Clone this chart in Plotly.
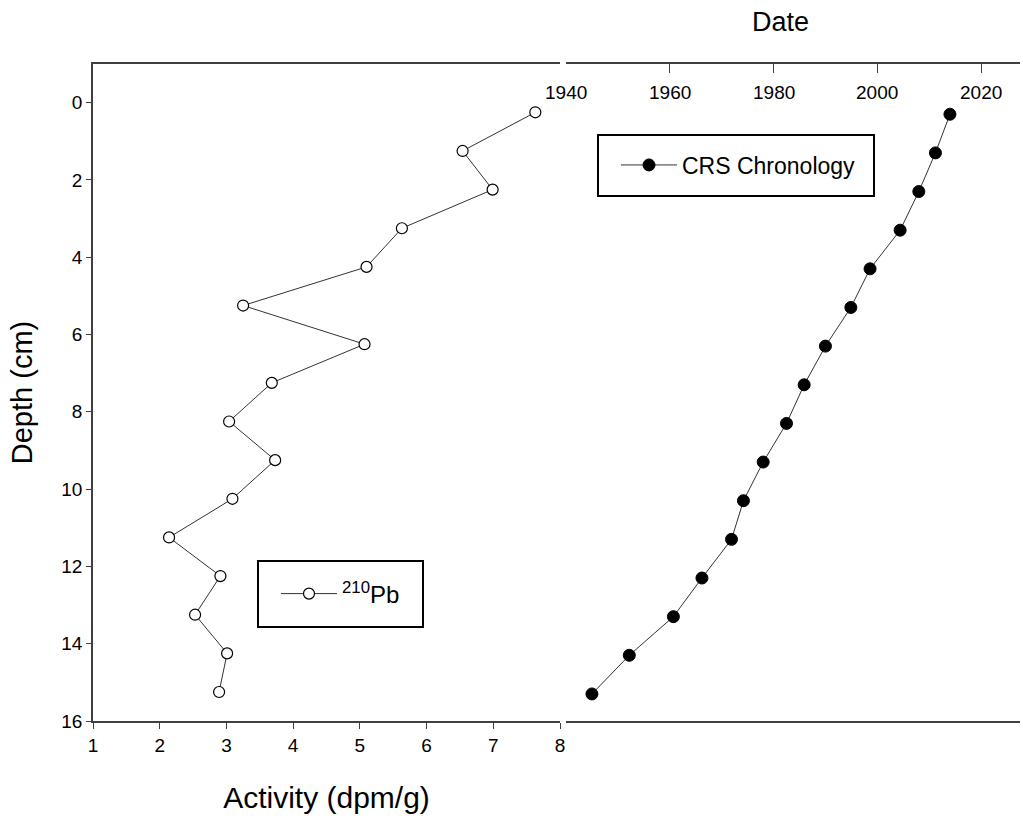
import plotly.graph_objects as go

# --- data ---
pb_depth = [0.25, 1.25, 2.25, 3.25, 4.25, 5.25, 6.25, 7.25, 8.25, 9.25,
            10.25, 11.25, 12.25, 13.25, 14.25, 15.25]
pb_activity = [7.63, 6.54, 6.99, 5.63, 5.10, 3.25, 5.07, 3.68, 3.04, 3.73,
               3.09, 2.14, 2.91, 2.53, 3.01, 2.89]

crs_depth = [0.3, 1.3, 2.3, 3.3, 4.3, 5.3, 6.3, 7.3, 8.3, 9.3,
             10.3, 11.3, 12.3, 13.3, 14.3, 15.3]
crs_year = [2014.0, 2011.2, 2008.0, 2004.4, 1998.6, 1994.9, 1990.0, 1985.9,
            1982.5, 1978.0, 1974.2, 1971.9, 1966.2, 1960.7, 1952.2, 1945.0]

depth_ticks = [0, 2, 4, 6, 8, 10, 12, 14, 16]
activity_ticks = [1, 2, 3, 4, 5, 6, 7, 8]
year_ticks = [1940, 1960, 1980, 2000, 2020]

W, H = 1023, 821
FONT = "Liberation Sans, Arial, sans-serif"
AX = "#404040"
TICK = 19

fig = go.Figure()
fig.add_trace(go.Scatter(
    x=pb_activity, y=pb_depth, mode="lines+markers", name="<sup>210</sup>Pb",
    line=dict(color="#333333", width=1),
    marker=dict(symbol="circle", size=11, color="white",
                line=dict(color="black", width=1.2)),
    xaxis="x", yaxis="y", legend="legend", showlegend=True))
fig.add_trace(go.Scatter(
    x=crs_year, y=crs_depth, mode="lines+markers", name="CRS Chronology",
    line=dict(color="#333333", width=1),
    marker=dict(symbol="circle", size=12, color="black",
                line=dict(color="black", width=1)),
    xaxis="x2", yaxis="y2", legend="legend2", showlegend=True))

# Date-axis tick labels sit just under its top line (placed on the x2 scale)
annotations = [dict(text=str(v), x=v, xref="x2", y=1 - 92 / H, yref="paper",
                    xanchor="center", yanchor="middle", showarrow=False,
                    font=dict(size=TICK, color="black")) for v in year_ticks]
annotations.append(dict(text="Date", x=780 / W, xref="paper", y=1 - 22 / H,
                        yref="paper", xanchor="center", yanchor="middle",
                        showarrow=False, font=dict(size=27, color="black")))

ydom = [1 - 721 / H, 1 - 64 / H]
fig.update_layout(
    width=W, height=H, margin=dict(l=0, r=0, t=0, b=0),
    paper_bgcolor="white", plot_bgcolor="white", showlegend=True,
    font=dict(family=FONT, size=TICK, color="black"),
    xaxis=dict(domain=[93 / W, 560 / W], range=[1, 8], tickvals=activity_ticks,
               showline=True, linecolor=AX, linewidth=1.5, mirror=True,
               ticks="outside", ticklen=6, tickcolor=AX, showgrid=False,
               zeroline=False, automargin=False, tickfont=dict(color="black"),
               title=dict(text="Activity (dpm/g)", font=dict(size=30), standoff=32)),
    yaxis=dict(domain=ydom, range=[16, -1], tickvals=depth_ticks,
               showline=True, linecolor=AX, linewidth=1.5, mirror=False,
               ticks="outside", ticklen=5, tickcolor=AX, showgrid=False,
               zeroline=False, automargin=False, tickfont=dict(color="black"),
               title=dict(text="Depth (cm)", font=dict(size=29), standoff=20)),
    xaxis2=dict(domain=[566 / W, 1020 / W], range=[1940, 2027.5], tickvals=year_ticks,
                side="top", anchor="y2", showline=True, linecolor=AX, linewidth=1.5,
                mirror=True, ticks="inside", ticklen=9, tickcolor=AX,
                showticklabels=False, showgrid=False, zeroline=False,
                automargin=False),
    yaxis2=dict(domain=ydom, range=[16, -1], anchor="x2", visible=False),
    legend=dict(x=276 / W, y=1 - 594 / H, xanchor="left", yanchor="middle",
                borderwidth=0, bgcolor="rgba(0,0,0,0)", itemwidth=56,
                font=dict(size=24)),
    legend2=dict(x=616 / W, y=1 - 165 / H, xanchor="left", yanchor="middle",
                 borderwidth=0, bgcolor="rgba(0,0,0,0)", itemwidth=56,
                 font=dict(size=23)),
    annotations=annotations,
    shapes=[
        dict(type="rect", xref="paper", yref="paper", x0=258 / W, x1=423 / W,
             y0=1 - 627 / H, y1=1 - 561 / H, line=dict(color="black", width=2)),
        dict(type="rect", xref="paper", yref="paper", x0=598 / W, x1=874 / W,
             y0=1 - 196 / H, y1=1 - 135 / H, line=dict(color="black", width=2)),
    ],
)

fig.write_html("out.html")
